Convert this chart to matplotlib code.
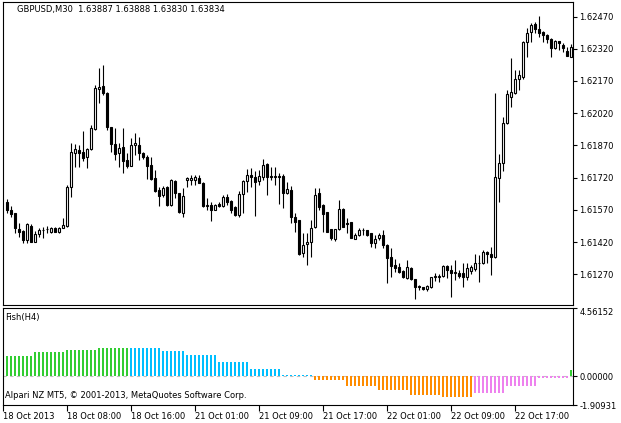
import numpy as np
import matplotlib.pyplot as plt

# GBPUSD M30 candles
opens = [1.61605, 1.61569, 1.61554, 1.61480, 1.61472, 1.61430, 1.61496, 1.61422, 1.61456, 1.61476,
         1.61480, 1.61468, 1.61484, 1.61468, 1.61487, 1.61496, 1.61678, 1.61836, 1.61849, 1.61838,
         1.61818, 1.61852, 1.61947, 1.62131, 1.62147, 1.62115, 1.61954, 1.61875, 1.61836, 1.61861,
         1.61802, 1.61774, 1.61872, 1.61872, 1.61833, 1.61818, 1.61779, 1.61717, 1.61663, 1.61639,
         1.61678, 1.61593, 1.61704, 1.61647, 1.61554, 1.61709, 1.61709, 1.61710, 1.61720, 1.61697,
         1.61590, 1.61593, 1.61569, 1.61597, 1.61590, 1.61631, 1.61611, 1.61585, 1.61546, 1.61643,
         1.61704, 1.61732, 1.61725, 1.61706, 1.61725, 1.61784, 1.61729, 1.61725, 1.61729, 1.61728,
         1.61647, 1.61663, 1.61538, 1.61523, 1.61368, 1.61410, 1.61419, 1.61492, 1.61650, 1.61593,
         1.61559, 1.61480, 1.61433, 1.61480, 1.61574, 1.61510, 1.61512, 1.61434, 1.61453, 1.61476,
         1.61476, 1.61461, 1.61414, 1.61440, 1.61453, 1.61407, 1.61349, 1.61313, 1.61305, 1.61287,
         1.61254, 1.61301, 1.61247, 1.61217, 1.61212, 1.61200, 1.61210, 1.61259, 1.61259, 1.61262,
         1.61309, 1.61290, 1.61278, 1.61278, 1.61275, 1.61256, 1.61287, 1.61293, 1.61321, 1.61321,
         1.61375, 1.61365, 1.61349, 1.61717, 1.61787, 1.61973, 1.62097, 1.62115, 1.62178, 1.62190,
         1.62350, 1.62397, 1.62435, 1.62411, 1.62397, 1.62383, 1.62364, 1.62322, 1.62356, 1.62338,
         1.62310, 1.62283]
highs = [1.61619, 1.61590, 1.61557, 1.61508, 1.61475, 1.61510, 1.61504, 1.61473, 1.61484, 1.61492,
         1.61495, 1.61492, 1.61488, 1.61488, 1.61534, 1.61686, 1.61880, 1.61875, 1.61872, 1.61937,
         1.61860, 1.61965, 1.62151, 1.62229, 1.62244, 1.62117, 1.61957, 1.61950, 1.61880, 1.61950,
         1.61833, 1.61903, 1.61926, 1.61911, 1.61841, 1.61825, 1.61818, 1.61756, 1.61678, 1.61681,
         1.61681, 1.61712, 1.61709, 1.61649, 1.61670, 1.61725, 1.61732, 1.61734, 1.61732, 1.61699,
         1.61624, 1.61605, 1.61595, 1.61608, 1.61639, 1.61643, 1.61616, 1.61588, 1.61658, 1.61709,
         1.61759, 1.61764, 1.61751, 1.61756, 1.61806, 1.61787, 1.61771, 1.61771, 1.61740, 1.61737,
         1.61701, 1.61681, 1.61554, 1.61525, 1.61461, 1.61461, 1.61523, 1.61670, 1.61670, 1.61595,
         1.61561, 1.61482, 1.61482, 1.61616, 1.61577, 1.61531, 1.61514, 1.61461, 1.61484, 1.61484,
         1.61478, 1.61463, 1.61453, 1.61461, 1.61476, 1.61409, 1.61391, 1.61341, 1.61321, 1.61289,
         1.61337, 1.61305, 1.61249, 1.61219, 1.61213, 1.61220, 1.61259, 1.61275, 1.61272, 1.61313,
         1.61313, 1.61313, 1.61337, 1.61290, 1.61321, 1.61321, 1.61313, 1.61365, 1.61360, 1.61383,
         1.61380, 1.61396, 1.62113, 1.61830, 1.62004, 1.62128, 1.62276, 1.62221, 1.62221, 1.62357,
         1.62415, 1.62439, 1.62446, 1.62474, 1.62403, 1.62387, 1.62369, 1.62361, 1.62358, 1.62345,
         1.62330, 1.62342]
lows = [1.61554, 1.61538, 1.61461, 1.61445, 1.61414, 1.61414, 1.61420, 1.61420, 1.61445, 1.61438,
        1.61461, 1.61461, 1.61466, 1.61461, 1.61484, 1.61492, 1.61631, 1.61771, 1.61771, 1.61798,
        1.61764, 1.61849, 1.61942, 1.62066, 1.62105, 1.61942, 1.61841, 1.61802, 1.61771, 1.61740,
        1.61764, 1.61772, 1.61825, 1.61802, 1.61807, 1.61714, 1.61709, 1.61655, 1.61588, 1.61631,
        1.61588, 1.61588, 1.61624, 1.61557, 1.61538, 1.61675, 1.61686, 1.61684, 1.61694, 1.61585,
        1.61569, 1.61518, 1.61567, 1.61585, 1.61585, 1.61593, 1.61554, 1.61543, 1.61535, 1.61554,
        1.61652, 1.61678, 1.61543, 1.61686, 1.61709, 1.61639, 1.61709, 1.61686, 1.61597, 1.61577,
        1.61645, 1.61510, 1.61468, 1.61360, 1.61352, 1.61313, 1.61352, 1.61487, 1.61569, 1.61468,
        1.61466, 1.61430, 1.61427, 1.61476, 1.61490, 1.61461, 1.61438, 1.61433, 1.61448, 1.61453,
        1.61448, 1.61396, 1.61391, 1.61430, 1.61391, 1.61228, 1.61259, 1.61282, 1.61278, 1.61251,
        1.61247, 1.61244, 1.61155, 1.61197, 1.61199, 1.61194, 1.61205, 1.61239, 1.61236, 1.61259,
        1.61251, 1.61163, 1.61244, 1.61251, 1.61212, 1.61244, 1.61272, 1.61287, 1.61236, 1.61317,
        1.61321, 1.61267, 1.61347, 1.61608, 1.61752, 1.61970, 1.62050, 1.62109, 1.62128, 1.62179,
        1.62283, 1.62350, 1.62392, 1.62376, 1.62353, 1.62345, 1.62283, 1.62318, 1.62314, 1.62306,
        1.62286, 1.62280]
closes = [1.61569, 1.61551, 1.61484, 1.61468, 1.61430, 1.61504, 1.61422, 1.61458, 1.61476, 1.61477,
          1.61481, 1.61484, 1.61468, 1.61484, 1.61500, 1.61678, 1.61838, 1.61853, 1.61836, 1.61813,
          1.61853, 1.61950, 1.62136, 1.62143, 1.62113, 1.61957, 1.61875, 1.61829, 1.61857, 1.61799,
          1.61774, 1.61872, 1.61880, 1.61836, 1.61815, 1.61774, 1.61712, 1.61658, 1.61636, 1.61673,
          1.61593, 1.61709, 1.61647, 1.61562, 1.61635, 1.61720, 1.61720, 1.61722, 1.61697, 1.61590,
          1.61591, 1.61569, 1.61593, 1.61590, 1.61631, 1.61608, 1.61569, 1.61546, 1.61643, 1.61704,
          1.61732, 1.61725, 1.61701, 1.61728, 1.61779, 1.61725, 1.61722, 1.61726, 1.61722, 1.61647,
          1.61667, 1.61535, 1.61515, 1.61365, 1.61407, 1.61419, 1.61487, 1.61639, 1.61585, 1.61549,
          1.61468, 1.61440, 1.61480, 1.61573, 1.61492, 1.61503, 1.61440, 1.61453, 1.61476, 1.61477,
          1.61453, 1.61414, 1.61433, 1.61453, 1.61407, 1.61345, 1.61310, 1.61301, 1.61282, 1.61256,
          1.61303, 1.61248, 1.61210, 1.61210, 1.61200, 1.61216, 1.61256, 1.61260, 1.61260, 1.61309,
          1.61290, 1.61278, 1.61279, 1.61262, 1.61256, 1.61301, 1.61303, 1.61321, 1.61322, 1.61373,
          1.61363, 1.61349, 1.61722, 1.61787, 1.61973, 1.62108, 1.62120, 1.62178, 1.62198, 1.62350,
          1.62392, 1.62431, 1.62411, 1.62392, 1.62383, 1.62364, 1.62322, 1.62356, 1.62345, 1.62322,
          1.62288, 1.62327]

price_ticks = [1.61270, 1.61420, 1.61570, 1.61720, 1.61870, 1.62020, 1.62170, 1.62320, 1.62470]

# Fish(H4) indicator: one value per H4 bar, shown on every M30 bar inside it
fish_values = [1.37, 1.66, 1.77, 1.91, 1.90, 1.71, 1.44, 0.99, 0.49, 0.09,
               -0.25, -0.61, -0.92, -1.21, -1.40, -1.13, -0.65, -0.13, 0.42]
fish_bars = [7, 8, 8, 8, 8, 6, 8, 8, 8, 8, 8, 8, 8, 8, 8, 8, 8, 8, 1]
fish_colors = ['#32CD32'] * 4 + ['#00BFFF'] * 6 + ['#FF8C00'] * 5 + ['#EE82EE'] * 3 + ['#32CD32']
fish_ticks = [-1.90931, 0.0, 4.56152]

time_ticks = [-1, 15, 31, 47, 63, 79, 95, 111, 127]
time_labels = ['18 Oct 2013', '18 Oct 08:00', '18 Oct 16:00', '21 Oct 01:00', '21 Oct 09:00',
               '21 Oct 17:00', '22 Oct 01:00', '22 Oct 09:00', '22 Oct 17:00']

W, H = 621, 423
fig = plt.figure(figsize=(W / 100, H / 100), dpi=100)
plt.rcParams['font.family'] = 'DejaVu Sans'

x = np.arange(len(opens))
o = np.array(opens)
c = np.array(closes)

# main price window
ax = fig.add_axes([3 / W, (H - 305) / H, 569.5 / W, 303.5 / H])
ax.vlines(x, lows, highs, color='black', lw=0.8, zorder=1)
up = c >= o
body = np.maximum(np.abs(c - o), 0.000005)
ax.bar(x, body, bottom=np.minimum(o, c), width=0.55,
       color=np.where(up, 'white', 'black'), edgecolor='black', linewidth=0.8, zorder=2)
ax.set_xlim(-1.0, 141.4)
ax.set_ylim(1.61127, 1.62540)
ax.yaxis.tick_right()
ax.set_yticks(price_ticks)
ax.set_yticklabels([f'{p:.5f}' for p in price_ticks])
ax.tick_params(axis='y', direction='out', length=3, width=0.8, labelsize=6, pad=2)
ax.set_xticks([])
for s in ax.spines.values():
    s.set_linewidth(0.8)
ax.text(0.0246, 0.972, 'GBPUSD,M30  1.63887 1.63888 1.63830 1.63834', transform=ax.transAxes,
        fontsize=6, va='center', ha='left')

# indicator window
ax2 = fig.add_axes([3 / W, (H - 405) / H, 569.5 / W, 96.7 / H])
fish = np.repeat(fish_values, fish_bars)
colors = np.repeat(fish_colors, fish_bars)
ax2.axhline(0, color='#C0C0C0', lw=0.8, ls=(0, (3, 3)), zorder=0)
ax2.bar(x, fish, width=0.5, color=colors, zorder=2)
ax2.set_xlim(-1.0, 141.4)
ax2.set_ylim(fish_ticks[0], fish_ticks[-1])
ax2.yaxis.tick_right()
ax2.set_yticks(fish_ticks)
ax2.set_yticklabels([f'{v:.5f}' for v in fish_ticks])
ax2.get_yticklabels()[-1].set_va('top')
ax2.tick_params(axis='y', direction='out', length=3, width=0.8, labelsize=6, pad=2)
ax2.set_xticks(time_ticks)
ax2.set_xticklabels(time_labels)
for lab in ax2.get_xticklabels():
    lab.set_ha('left')
ax2.tick_params(axis='x', direction='out', length=4, width=0.8, labelsize=6, pad=1)
for s in ax2.spines.values():
    s.set_linewidth(0.8)
ax2.text(0.0035, 0.9, 'Fish(H4)', transform=ax2.transAxes, fontsize=6, va='center', ha='left')
ax2.text(0.0035, 0.1, 'Alpari NZ MT5, © 2001-2013, MetaQuotes Software Corp.', transform=ax2.transAxes,
         fontsize=6, va='center', ha='left')

fig.savefig('out.png', dpi=100)
